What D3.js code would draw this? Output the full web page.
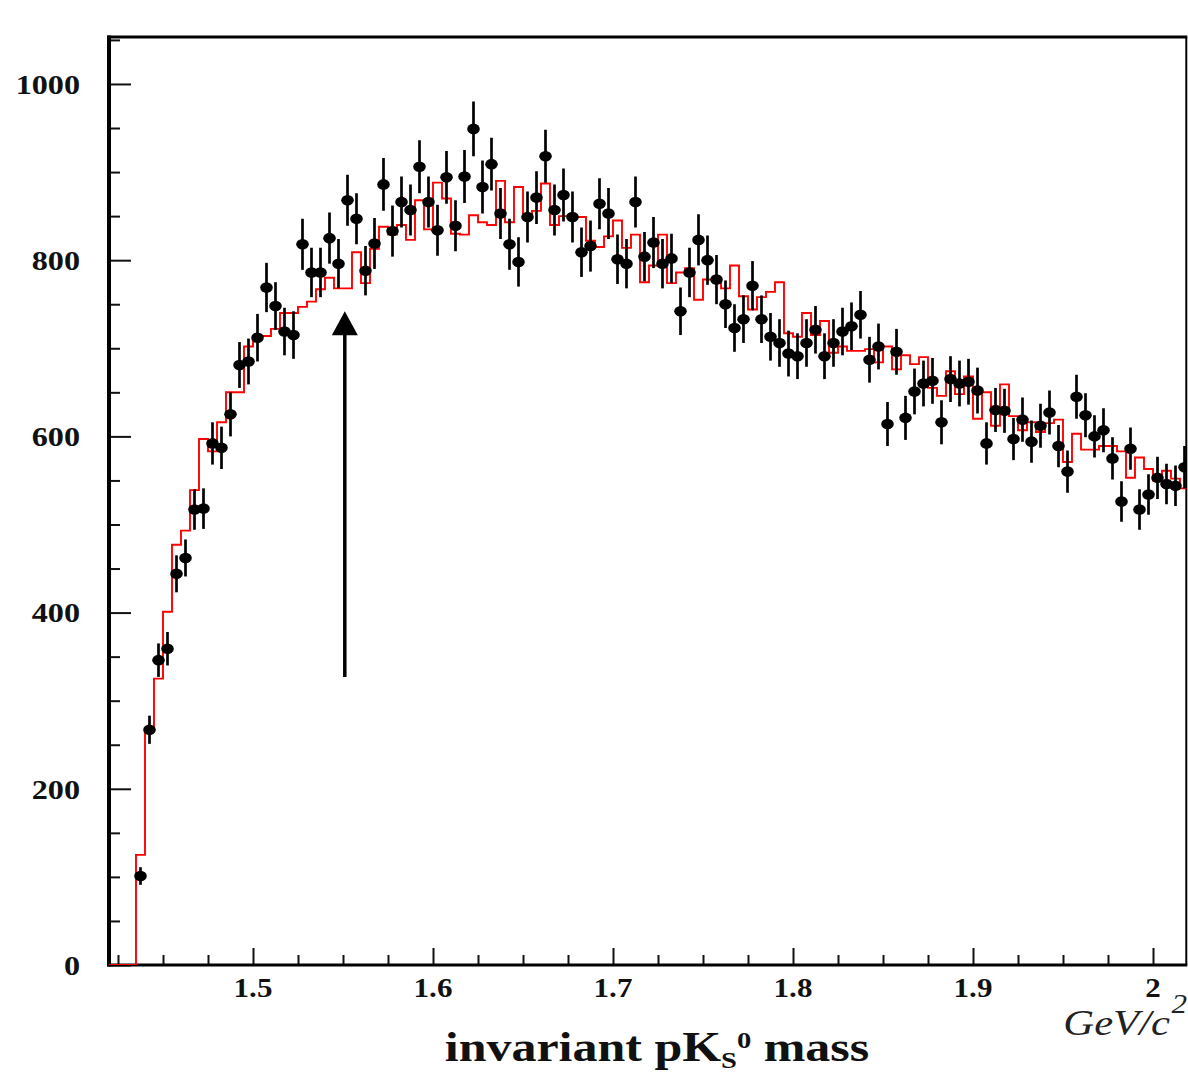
<!DOCTYPE html>
<html>
<head>
<meta charset="utf-8">
<script src="https://cdn.jsdelivr.net/npm/d3@7"></script>
<style>
  html, body { margin: 0; padding: 0; background: #fff; }
  svg { display: block; }
  text { font-family: "Liberation Serif", "DejaVu Serif", serif; }
</style>
</head>
<body>
<svg id="chart" width="1188" height="1075"></svg>
<script>
// ---------------- DATA ----------------
// bin centres (GeV/c^2), 5 MeV bins
const massBins = [
  1.4375,1.4425,1.4475,1.4525,1.4575,1.4625,1.4675,1.4725,1.4775,1.4825,
  1.4875,1.4925,1.4975,1.5025,1.5075,1.5125,1.5175,1.5225,1.5275,1.5325,
  1.5375,1.5425,1.5475,1.5525,1.5575,1.5625,1.5675,1.5725,1.5775,1.5825,
  1.5875,1.5925,1.5975,1.6025,1.6075,1.6125,1.6175,1.6225,1.6275,1.6325,
  1.6375,1.6425,1.6475,1.6525,1.6575,1.6625,1.6675,1.6725,1.6775,1.6825,
  1.6875,1.6925,1.6975,1.7025,1.7075,1.7125,1.7175,1.7225,1.7275,1.7325,
  1.7375,1.7425,1.7475,1.7525,1.7575,1.7625,1.7675,1.7725,1.7775,1.7825,
  1.7875,1.7925,1.7975,1.8025,1.8075,1.8125,1.8175,1.8225,1.8275,1.8325,
  1.8375,1.8425,1.8475,1.8525,1.8575,1.8625,1.8675,1.8725,1.8775,1.8825,
  1.8875,1.8925,1.8975,1.9025,1.9075,1.9125,1.9175,1.9225,1.9275,1.9325,
  1.9375,1.9425,1.9475,1.9525,1.9575,1.9625,1.9675,1.9725,1.9775,1.9825,
  1.9875,1.9925,1.9975,2.0025,2.0075,2.0125,2.0175
];
// measured counts (black points)
const dataCounts = [
  101,267,346,359,444,462,517,518,592,587,
  625,681,685,712,769,748,719,715,818,786,
  786,825,796,868,847,788,819,886,833,866,
  857,906,866,834,894,839,895,949,883,909,
  853,818,798,849,871,918,857,874,849,809,
  816,864,853,801,796,866,804,820,796,802,
  742,786,823,800,778,750,723,733,771,733,
  713,706,694,691,706,721,691,706,719,725,
  738,687,702,614,696,621,651,660,663,616,
  665,660,662,652,592,630,629,597,619,594,
  612,627,589,560,645,624,600,607,575,526,
  586,517,534,553,546,544,565
];
// statistical errors on the points
const dataErrors = [
  10,16,19,19,21,21,23,23,24,24,
  25,26,26,27,28,27,27,27,29,28,
  28,29,28,29,29,28,29,30,29,29,
  29,30,29,29,30,29,30,31,30,30,
  29,29,28,29,30,30,29,30,29,28,
  29,29,29,28,28,29,28,29,28,28,
  27,28,29,28,28,27,27,27,28,27,
  27,27,26,26,27,27,26,27,27,27,
  27,26,26,25,26,25,26,26,26,25,
  26,26,26,26,24,25,25,24,25,24,
  25,25,24,24,25,25,24,25,24,23,
  24,23,23,24,23,23,24
];
// red histogram (background / mixed events)
const histCounts = [
  125,267,325,401,477,493,539,597,583,616,
  650,650,702,714,714,722,740,740,747,753,
  767,780,768,768,809,774,813,838,829,840,
  823,868,835,888,870,830,829,851,843,840,
  890,843,883,852,856,887,840,850,851,849,
  822,815,827,845,814,829,775,794,829,774,
  786,791,755,778,779,768,794,759,744,758,
  764,775,717,713,740,715,731,695,702,697,
  697,699,684,702,676,692,682,690,655,646,
  674,648,668,620,650,612,659,623,607,616,
  605,615,619,571,603,585,585,589,589,583,
  553,576,563,550,561,552,541
];
const binHalfWidth = 0.0025;

const xTickLabels = ["1.5","1.6","1.7","1.8","1.9","2"];
const xTickValues = [1.5,1.6,1.7,1.8,1.9,2.0];
const yTickLabels = ["0","200","400","600","800","1000"];
const yTickValues = [0,200,400,600,800,1000];

// arrow marking the 1.55 GeV region
const arrowMass = 1.551;
const arrowFrom = 327, arrowTo = 742;

// ---------------- LAYOUT ----------------
const L = 109, R = 1186.3, T = 37, B = 965;
const svg = d3.select("#chart");

const x = d3.scaleLinear().domain([1.42, 2.0185]).range([L, R]);
const y = d3.scaleLinear().domain([0, 1053.3]).range([B, T]);

svg.append("rect").attr("width",1188).attr("height",1075).attr("fill","#fff");

svg.append("defs").append("clipPath").attr("id","plotclip")
  .append("rect").attr("x",L).attr("y",T-2).attr("width",R-L).attr("height",B-T+2);

// ---------------- AXES / TICKS ----------------
const xMinor = d3.range(1.425, 2.0186, 0.025).filter(v => xTickValues.every(m => Math.abs(m - v) > 1e-6));
const yMinor = d3.range(50, 1051, 50).filter(v => v % 200 !== 0);

function styleTicks(g){
  g.select(".domain").remove();
  g.selectAll(".tick line").attr("stroke","#111").attr("stroke-width",2);
  g.selectAll(".tick text").remove();
}

svg.append("g").attr("transform",`translate(0,${B})`)
  .call(d3.axisBottom(x).tickValues(xTickValues).tickSize(-17).tickFormat(""))
  .call(styleTicks);
svg.append("g").attr("transform",`translate(0,${B})`)
  .call(d3.axisBottom(x).tickValues(xMinor).tickSize(-10).tickFormat(""))
  .call(styleTicks);
svg.append("g").attr("transform",`translate(${L},0)`)
  .call(d3.axisLeft(y).tickValues(yTickValues).tickSize(-22).tickFormat(""))
  .call(styleTicks);
svg.append("g").attr("transform",`translate(${L},0)`)
  .call(d3.axisLeft(y).tickValues(yMinor).tickSize(-11).tickFormat(""))
  .call(styleTicks);

// frame
svg.append("line").attr("x1",L).attr("x2",L).attr("y1",T-1.5).attr("y2",B+1.5)
  .attr("stroke","#000").attr("stroke-width",4);
svg.append("line").attr("x1",L-2).attr("x2",R+1).attr("y1",B).attr("y2",B)
  .attr("stroke","#000").attr("stroke-width",3);
svg.append("line").attr("x1",L-2).attr("x2",R+1).attr("y1",T).attr("y2",T)
  .attr("stroke","#000").attr("stroke-width",3);
svg.append("line").attr("x1",R).attr("x2",R).attr("y1",T).attr("y2",B)
  .attr("stroke","#000").attr("stroke-width",2);

// ---------------- LABELS ----------------
const stretch = 1.15;
svg.append("g").selectAll("text").data(yTickValues).join("text")
  .attr("transform", d => `translate(80,${y(d)}) scale(${stretch},1)`)
  .attr("dy","0.35em").attr("text-anchor","end")
  .attr("font-size",28).attr("font-weight","bold").attr("fill","#111")
  .text((d,i) => yTickLabels[i]);

svg.append("g").selectAll("text").data(xTickValues).join("text")
  .attr("transform", d => `translate(${x(d)},997) scale(${stretch},1)`)
  .attr("text-anchor","middle")
  .attr("font-size",27).attr("font-weight","bold").attr("fill","#111")
  .text((d,i) => xTickLabels[i]);

// unit label
svg.append("text")
  .attr("transform","translate(1170,1035) scale(1.22,1)")
  .attr("text-anchor","end").attr("font-size",35).attr("font-style","italic").attr("fill","#222")
  .text("GeV/c");
svg.append("text").attr("transform","translate(1187,1013) scale(1.15,1)").attr("text-anchor","end")
  .attr("font-size",27).attr("font-style","italic").attr("fill","#222").text("2");

// title
const title = svg.append("text")
  .attr("transform","translate(657,1061) scale(1.19,1)")
  .attr("text-anchor","middle").attr("font-size",42).attr("font-weight","bold").attr("fill","#111");
title.append("tspan").text("invariant pK");
title.append("tspan").attr("font-size",24).attr("dy",7).text("S");
title.append("tspan").attr("font-size",24).attr("dy",-20).text("0");
title.append("tspan").attr("dy",13).text(" mass");

// ---------------- HISTOGRAM ----------------
const histPts = [[1.42, 0]];
massBins.forEach((m,i) => histPts.push([m - binHalfWidth, histCounts[i]]));
histPts.push([massBins[massBins.length-1] + binHalfWidth, histCounts[histCounts.length-1]]);
const stepLine = d3.line().x(d => x(d[0])).y(d => y(d[1])).curve(d3.curveStepAfter);
svg.append("path").attr("clip-path","url(#plotclip)")
  .attr("d", stepLine(histPts))
  .attr("fill","none").attr("stroke","#ff0000").attr("stroke-width",1.9);

// ---------------- DATA POINTS ----------------
const pts = svg.append("g").attr("clip-path","url(#plotclip)");
pts.selectAll("line.err").data(massBins).join("line").attr("class","err")
  .attr("x1", d => x(d)).attr("x2", d => x(d))
  .attr("y1", (d,i) => y(dataCounts[i] - dataErrors[i]))
  .attr("y2", (d,i) => y(dataCounts[i] + dataErrors[i]))
  .attr("stroke","#000").attr("stroke-width",2.7);
pts.selectAll("ellipse").data(massBins).join("ellipse")
  .attr("cx", d => x(d)).attr("cy", (d,i) => y(dataCounts[i]))
  .attr("rx",6.3).attr("ry",5.3).attr("fill","#000");

// ---------------- ARROW ----------------
const ax = x(arrowMass);
svg.append("line").attr("x1",ax).attr("x2",ax)
  .attr("y1",y(arrowFrom)).attr("y2",y(arrowTo) + 22)
  .attr("stroke","#000").attr("stroke-width",3.5);
svg.append("path")
  .attr("d",`M${ax},${y(arrowTo)} L${ax+13},${y(arrowTo)+24} L${ax-13},${y(arrowTo)+24} Z`)
  .attr("fill","#000");
</script>
</body>
</html>
